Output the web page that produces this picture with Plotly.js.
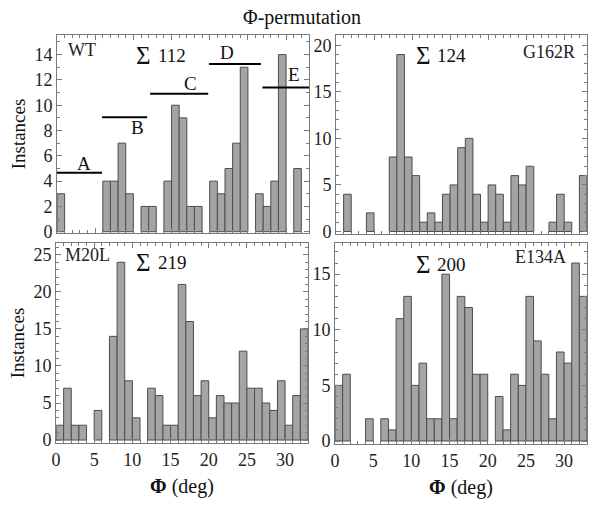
<!DOCTYPE html>
<html><head><meta charset="utf-8">
<script src="https://cdn.plot.ly/plotly-3.0.1.min.js"></script>
<style>html,body{margin:0;padding:0;background:#fff}#plot{width:600px;height:507px}</style>
</head><body><div id="plot"></div>
<script>
// bin left edges: 0..32 (width 1 deg)
const bins = Array.from({length: 33}, (_, i) => i);
const wt    = [3,0,0,0,0,0,4,4,7,3,0,2,2,0,4,10,9,2,2,0,4,3,5,7,13,0,3,2,4,14,0,5,0];
const g162r = [0,4,0,0,2,0,0,8,19,8,6,1,2,1,4,5,9,10,4,1,5,4,1,6,5,7,0,0,1,4,1,0,6];
const m20l  = [2,7,2,2,0,4,0,14,24,8,3,0,7,6,2,2,21,16,6,8,3,6,5,5,12,7,7,5,4,8,2,6,15];
const e134a = [5,6,0,0,2,0,2,1,11,13,5,7,2,2,15,2,13,12,6,6,0,4,1,6,5,13,9,6,2,8,7,16,13];
const panelNames = ["WT", "G162R", "M20L", "E134A"];
const sums = ["112", "124", "219", "200"];
// WT region bars A-E
const regionLabels = ["A", "B", "C", "D", "E"];
const regionStart = [0, 5.9, 12.2, 19.9, 26.9];
const regionEnd   = [5.9, 11.8, 19.8, 26.7, 33];
const regionLevel = [4.66, 9.05, 10.9, 13.26, 11.4];
const regionLabelX = [3.5, 10.6, 17.5, 22.3, 31.1];
const regionLabelY = [5.4, 8.2, 11.7, 14.15, 12.4];

const FONT = "Liberation Serif, Times New Roman, serif";
const W = 600, H = 507;
const series = [wt, g162r, m20l, e134a];
const axes = [["x","y"],["x2","y2"],["x3","y3"],["x4","y4"]];
const traces = series.map((s, k) => ({
  type: "bar", x: bins.map(b => b + 0.5), y: s.map(v => v === 0 ? null : v), width: 1,
  xaxis: axes[k][0], yaxis: axes[k][1],
  marker: {color: "#a4a4a4", line: {color: "#4d4d4d", width: 1}},
  showlegend: false, hoverinfo: "skip"
}));
regionLabels.forEach((lab, i) => {
  traces.push({type: "scatter", mode: "lines", x: [regionStart[i], regionEnd[i]],
    y: [regionLevel[i], regionLevel[i]], xaxis: "x", yaxis: "y",
    line: {color: "#000", width: 2}, showlegend: false, hoverinfo: "skip", cliponaxis: false});
});

// pixel boxes for panels
const boxes = [[57,309,35,233],[336,587,35,234],[56,308,243,443],[335,587,243,444]];
const yranges = [[-0.1,15.55],[-0.27,21.1],[-0.4,26.6],[-0.27,17.8]];
const ydt = [2,5,5,5];
function xd(b){return [b[0]/W, b[1]/W];}
function yd(b){return [1-b[3]/H, 1-b[2]/H];}

const layout = {
  width: W, height: H, margin: {l:0,r:0,t:0,b:0},
  paper_bgcolor: "#fff", plot_bgcolor: "#fff", bargap: 0,
  font: {family: FONT, color: "#222", size: 15},
  title: {text: "Φ-permutation", x: 302/W, xanchor: "center", y: 1-17/H, yanchor: "middle",
          font: {family: FONT, size: 20, color: "#111"}},
  annotations: [], showlegend: false
};
for (let k = 0; k < 4; k++) {
  const sx = k === 0 ? "" : String(k+1);
  const b = boxes[k];
  layout["xaxis"+sx] = {
    domain: xd(b), range: [0, 33], anchor: "y"+sx, mirror: "allticks",
    showline: true, linecolor: "#7a7a7a", linewidth: 1, showgrid: false, zeroline: false,
    ticks: "inside", ticklen: 5, tickcolor: "#7a7a7a", tick0: 0, dtick: 5,
    minor: {ticks: "inside", ticklen: 3, dtick: 1, tickcolor: "#7a7a7a"},
    showticklabels: k >= 2, tickfont: {family: FONT, size: 18, color: "#222"},
    title: k >= 2 ? {text: "<b>Φ</b> (deg)", font: {family: FONT, size: 20, color: "#111"}, standoff: 10} : undefined
  };
  layout["yaxis"+sx] = {
    domain: yd(b), range: yranges[k], anchor: "x"+sx, mirror: "allticks",
    showline: true, linecolor: "#7a7a7a", linewidth: 1, showgrid: false, zeroline: false,
    ticks: "inside", ticklen: 5, tickcolor: "#7a7a7a", tick0: 0, dtick: ydt[k],
    minor: {ticks: "inside", ticklen: 3, dtick: 1, tickcolor: "#7a7a7a"},
    tickfont: {family: FONT, size: 18, color: "#222"},
    title: (k === 0 || k === 2) ? {text: "Instances", font: {family: FONT, size: 19, color: "#111"}, standoff: 3} : undefined
  };
}
// panel name and sum annotations (data coordinates)
const nameX = [1.2, 31.7, 0.96, 30.5], nameY = [14.4, 19.3, 25.0, 16.5];
const nameAnchor = ["left", "right", "left", "right"];
const sumX = [10.1, 10.2, 10.2, 10.3], sumY = [13.95, 18.9, 24.0, 15.9];
for (let k = 0; k < 4; k++) {
  const sx = k === 0 ? "" : String(k+1);
  layout.annotations.push({xref: "x"+sx, yref: "y"+sx, x: nameX[k], y: nameY[k],
    text: panelNames[k], showarrow: false, xanchor: nameAnchor[k], yanchor: "middle",
    font: {family: FONT, size: 18, color: "#222"}});
  layout.annotations.push({xref: "x"+sx, yref: "y"+sx, x: sumX[k], y: sumY[k],
    text: "Σ", showarrow: false, xanchor: "left", yanchor: "middle",
    font: {family: FONT, size: 25, color: "#111"}});
  layout.annotations.push({xref: "x"+sx, yref: "y"+sx, x: sumX[k] + 2.85, y: sumY[k],
    text: sums[k], showarrow: false, xanchor: "left", yanchor: "middle",
    font: {family: FONT, size: 19, color: "#111"}});
}
regionLabels.forEach((lab, i) => {
  layout.annotations.push({xref: "x", yref: "y", x: regionLabelX[i], y: regionLabelY[i],
    text: lab, showarrow: false, xanchor: "center", yanchor: "middle",
    font: {family: FONT, size: 19, color: "#111"}});
});
Plotly.newPlot("plot", traces, layout, {displayModeBar: false, staticPlot: true});
</script></body></html>
